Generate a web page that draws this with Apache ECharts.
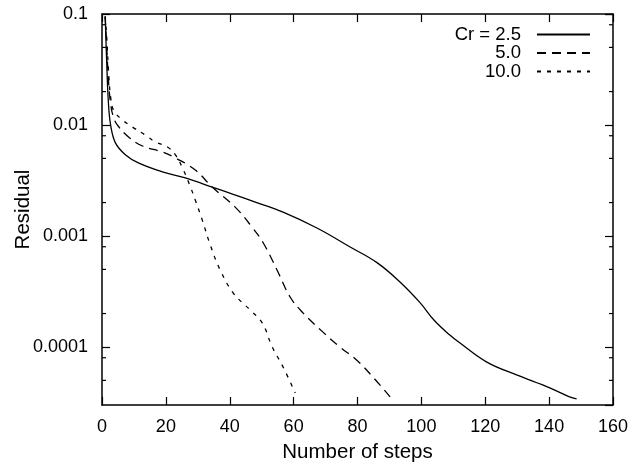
<!DOCTYPE html>
<html>
<head>
<meta charset="utf-8">
<script src="https://cdn.jsdelivr.net/npm/echarts@6/dist/echarts.min.js"></script>
<style>html,body{margin:0;padding:0;background:#fff}#c{width:631px;height:462px}</style>
</head>
<body>
<div id="c"></div>
<script>
// ---- data ----
const seriesNames = ['Cr = 2.5', '5.0', '10.0'];

const steps_cr25 = [1, 1.5, 2, 2.7, 4.2, 7.3, 11.4, 18.9, 26.1, 34.5, 41.1, 48, 56.7, 67.3, 77.7, 86.1, 93.3, 99.5, 104, 108.9, 112, 120.5, 129.8, 140.2, 146.4, 148.6];
const residual_cr25 = [0.095, 0.035, 0.016, 0.0100, 0.0069, 0.0054, 0.00455, 0.00378, 0.00333, 0.00276, 0.00237, 0.00202, 0.00164, 0.00118, 0.000796, 0.000575, 0.000385, 0.000252, 0.000174, 0.000128, 0.000109, 7.3e-5, 5.6e-5, 4.28e-5, 3.55e-5, 3.4e-5];

const steps_cr5 = [1, 1.5, 2, 2.7, 3.5, 4.8, 8.3, 12.7, 18.9, 23, 29.2, 34.5, 41.7, 47, 50.5, 54.8, 58.9, 63, 69.2, 74.5, 79.8, 84.8, 90.2];
const residual_cr5 = [0.095, 0.05, 0.026, 0.0155, 0.012, 0.01, 0.0078, 0.00647, 0.00571, 0.00505, 0.00393, 0.00276, 0.00182, 0.0012, 0.000865, 0.000494, 0.000282, 0.000202, 0.000136, 0.0001, 7.6e-5, 5.37e-5, 3.55e-5];

const steps_cr10 = [1, 1.5, 2, 2.7, 3.6, 6.4, 9.5, 13.6, 16.7, 20.5, 23, 25.5, 27.7, 29.2, 31.4, 33.9, 37, 41.1, 46.4, 50.2, 53.3, 56.7, 60.5];
const residual_cr10 = [0.095, 0.06, 0.032, 0.0179, 0.0136, 0.0111, 0.0096, 0.0081, 0.00703, 0.00634, 0.00537, 0.00393, 0.00276, 0.00211, 0.00139, 0.00083, 0.000494, 0.000306, 0.000215, 0.000164, 0.0001, 6.6e-5, 3.85e-5];

const xTickValues = [0, 20, 40, 60, 80, 100, 120, 140, 160];
const yTickLabels = ['0.1', '0.01', '0.001', '0.0001'];
const yMinorTicks = [0.08, 0.05, 0.02, 0.008, 0.005, 0.002, 0.0008, 0.0005, 0.0002, 0.00008, 0.00005];

// ---- chart ----
const FONT = '"Liberation Sans", Arial, Helvetica, sans-serif';
const zip = (a, b) => a.map((v, i) => [v, b[i]]);
const chart = echarts.init(document.getElementById('c'), null, {renderer: 'canvas'});

function yLabel(v) {
  const e = Math.log10(v);
  const r = Math.round(e);
  if (Math.abs(e - r) > 1e-6) return '';
  const s = yTickLabels.find(t => Math.abs(Math.log10(parseFloat(t)) - r) < 1e-6);
  return s || '';
}

const lineCommon = {type: 'line', symbol: 'none', showSymbol: false, smooth: 0.4, z: 3};
const axisLine = {show: true, onZero: false, lineStyle: {color: '#000', width: 1.5}};

const legendCommon = {
  orient: 'horizontal', align: 'right', right: 40, itemWidth: 53, itemHeight: 14,
  padding: 0, selectedMode: false,
  itemStyle: {opacity: 0, color: 'transparent', borderWidth: 0},
  textStyle: {fontFamily: FONT, fontSize: 18.5, color: '#000', padding: [0, 11, 0, 0]}
};

chart.setOption({
  animation: false,
  backgroundColor: '#fff',
  grid: {left: 102, right: 18, top: 14, bottom: 57, containLabel: false, outerBoundsMode: 'none'},
  legend: [
    Object.assign({}, legendCommon, {data: [seriesNames[0]], top: 25}),
    Object.assign({}, legendCommon, {data: [seriesNames[1]], top: 43.5}),
    Object.assign({}, legendCommon, {data: [seriesNames[2]], top: 62})
  ],
  xAxis: [
    {
      type: 'value', min: xTickValues[0], max: xTickValues[xTickValues.length - 1], interval: 20,
      position: 'bottom',
      name: 'Number of steps', nameLocation: 'middle', nameGap: 37, nameMoveOverlap: false,
      nameTextStyle: {fontFamily: FONT, fontSize: 20.5, color: '#000'},
      axisLine: axisLine,
      axisTick: {show: true, inside: true, length: 8, lineStyle: {color: '#000', width: 1.2}},
      axisLabel: {fontFamily: FONT, fontSize: 18, color: '#000', margin: 13},
      splitLine: {show: false}
    },
    {
      type: 'value', min: xTickValues[0], max: xTickValues[xTickValues.length - 1], interval: 20,
      position: 'top',
      axisLine: axisLine,
      axisTick: {show: true, inside: true, length: 8, lineStyle: {color: '#000', width: 1.2}},
      axisLabel: {show: false},
      splitLine: {show: false}
    }
  ],
  yAxis: [
    {
      type: 'log', logBase: 10, min: 3e-5, max: 0.1,
      position: 'left',
      name: 'Residual', nameLocation: 'middle', nameGap: 68, nameRotate: 90, nameMoveOverlap: false,
      nameTextStyle: {fontFamily: FONT, fontSize: 20.5, color: '#000'},
      axisLine: axisLine,
      axisTick: {show: true, inside: true, length: 8, lineStyle: {color: '#000', width: 1.2}},
      axisLabel: {fontFamily: FONT, fontSize: 18, color: '#000', margin: 14, formatter: yLabel, showMinLabel: false},
      splitLine: {show: false}
    },
    {
      type: 'log', logBase: 10, min: 3e-5, max: 0.1,
      position: 'right',
      axisLine: axisLine,
      axisTick: {show: true, inside: true, length: 8, lineStyle: {color: '#000', width: 1.2}},
      axisLabel: {show: false},
      splitLine: {show: false}
    }
  ],
  series: [
    Object.assign({}, lineCommon, {
      name: seriesNames[0], data: zip(steps_cr25, residual_cr25),
      lineStyle: {color: '#000', width: 1.3, type: 'solid'}, itemStyle: {color: '#000'}
    }),
    Object.assign({}, lineCommon, {
      name: seriesNames[1], data: zip(steps_cr5, residual_cr5),
      lineStyle: {color: '#000', width: 1.3, type: [9, 6]}, itemStyle: {color: '#000'}
    }),
    Object.assign({}, lineCommon, {
      name: seriesNames[2], data: zip(steps_cr10, residual_cr10),
      lineStyle: {color: '#000', width: 1.3, type: [4, 6]}, itemStyle: {color: '#000'}
    }),
    {
      type: 'custom', name: 'minorTicks', silent: true, z: 4,
      data: yMinorTicks.map(v => [xTickValues[0], v]),
      encode: {x: 0, y: 1},
      renderItem: function (params, api) {
        const v = api.value(1);
        const pL = api.coord([xTickValues[0], v]);
        const pR = api.coord([xTickValues[xTickValues.length - 1], v]);
        const st = {stroke: '#000', lineWidth: 1.2};
        return {
          type: 'group',
          children: [
            {type: 'line', shape: {x1: pL[0], y1: pL[1], x2: pL[0] + 4, y2: pL[1]}, style: st},
            {type: 'line', shape: {x1: pR[0], y1: pR[1], x2: pR[0] - 4, y2: pR[1]}, style: st}
          ]
        };
      }
    }
  ]
});
</script>
</body>
</html>
